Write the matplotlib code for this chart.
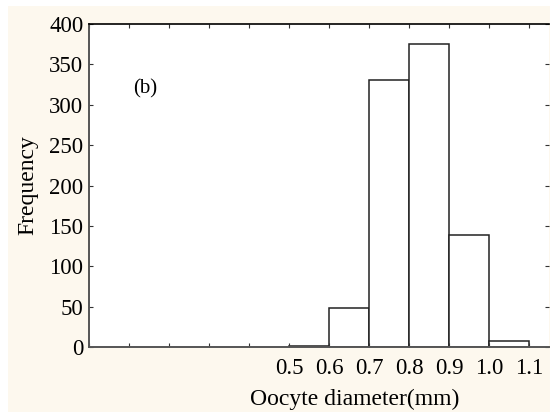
import matplotlib
matplotlib.use('agg')
import matplotlib.pyplot as plt
from matplotlib.patches import Rectangle

# бины гистограммы (левые края) и частоты
bin_left = [0.5, 0.6, 0.7, 0.8, 0.9, 1.0]
frequency = [1, 48, 331, 375, 139, 7]
bin_width = 0.1

x_ticks = [0.0, 0.1, 0.2, 0.3, 0.4, 0.5, 0.6, 0.7, 0.8, 0.9, 1.0, 1.1]
x_labels = ['', '', '', '', '', '0.5', '0.6', '0.7', '0.8', '0.9', '1.0', '1.1']
y_ticks = [0, 50, 100, 150, 200, 250, 300, 350, 400]

plt.rcParams['font.family'] = ['Liberation Serif', 'DejaVu Serif']

fig = plt.figure(figsize=(5.5, 4.12), dpi=100, facecolor='white')
# кремовый фон с белой полосой слева и сверху
fig.patches.append(Rectangle((8 / 550, 0), 1, 1 - 6 / 412, transform=fig.transFigure,
                             facecolor='#fdf8ee', edgecolor='none', zorder=-10))

ax = fig.add_axes([89 / 550, 1 - 347 / 412, 460 / 550, 323 / 412])
ax.set_zorder(5)
ax.set_facecolor('white')

ax.bar(bin_left, frequency, width=bin_width, align='edge',
       facecolor='white', edgecolor='#222222', linewidth=1.1)

ax.set_xlim(0, 1.15)
ax.set_ylim(0, 400)
ax.set_xticks(x_ticks)
ax.set_xticklabels(x_labels)
ax.set_yticks(y_ticks)
ax.tick_params(direction='in', length=3, width=0.8, top=True, right=True,
               labelsize=16.5, color='#333333', pad=4)
ax.tick_params(axis='x', pad=8)

for side in ['left', 'bottom']:
    ax.spines[side].set_linewidth(1.4)
    ax.spines[side].set_color('#555555')
ax.spines['top'].set_linewidth(1.2)
ax.spines['right'].set_visible(False)

ax.set_ylabel('Frequency', fontsize=17, labelpad=8)
ax.set_xlabel('Oocyte diameter(mm)', fontsize=17, labelpad=9)
ax.xaxis.set_label_coords(0.578, -0.13)

ax.text(0.096, 0.80, '(b)', transform=ax.transAxes, fontsize=15, va='center')

plt.savefig('out.png', dpi=100, facecolor=fig.get_facecolor())
